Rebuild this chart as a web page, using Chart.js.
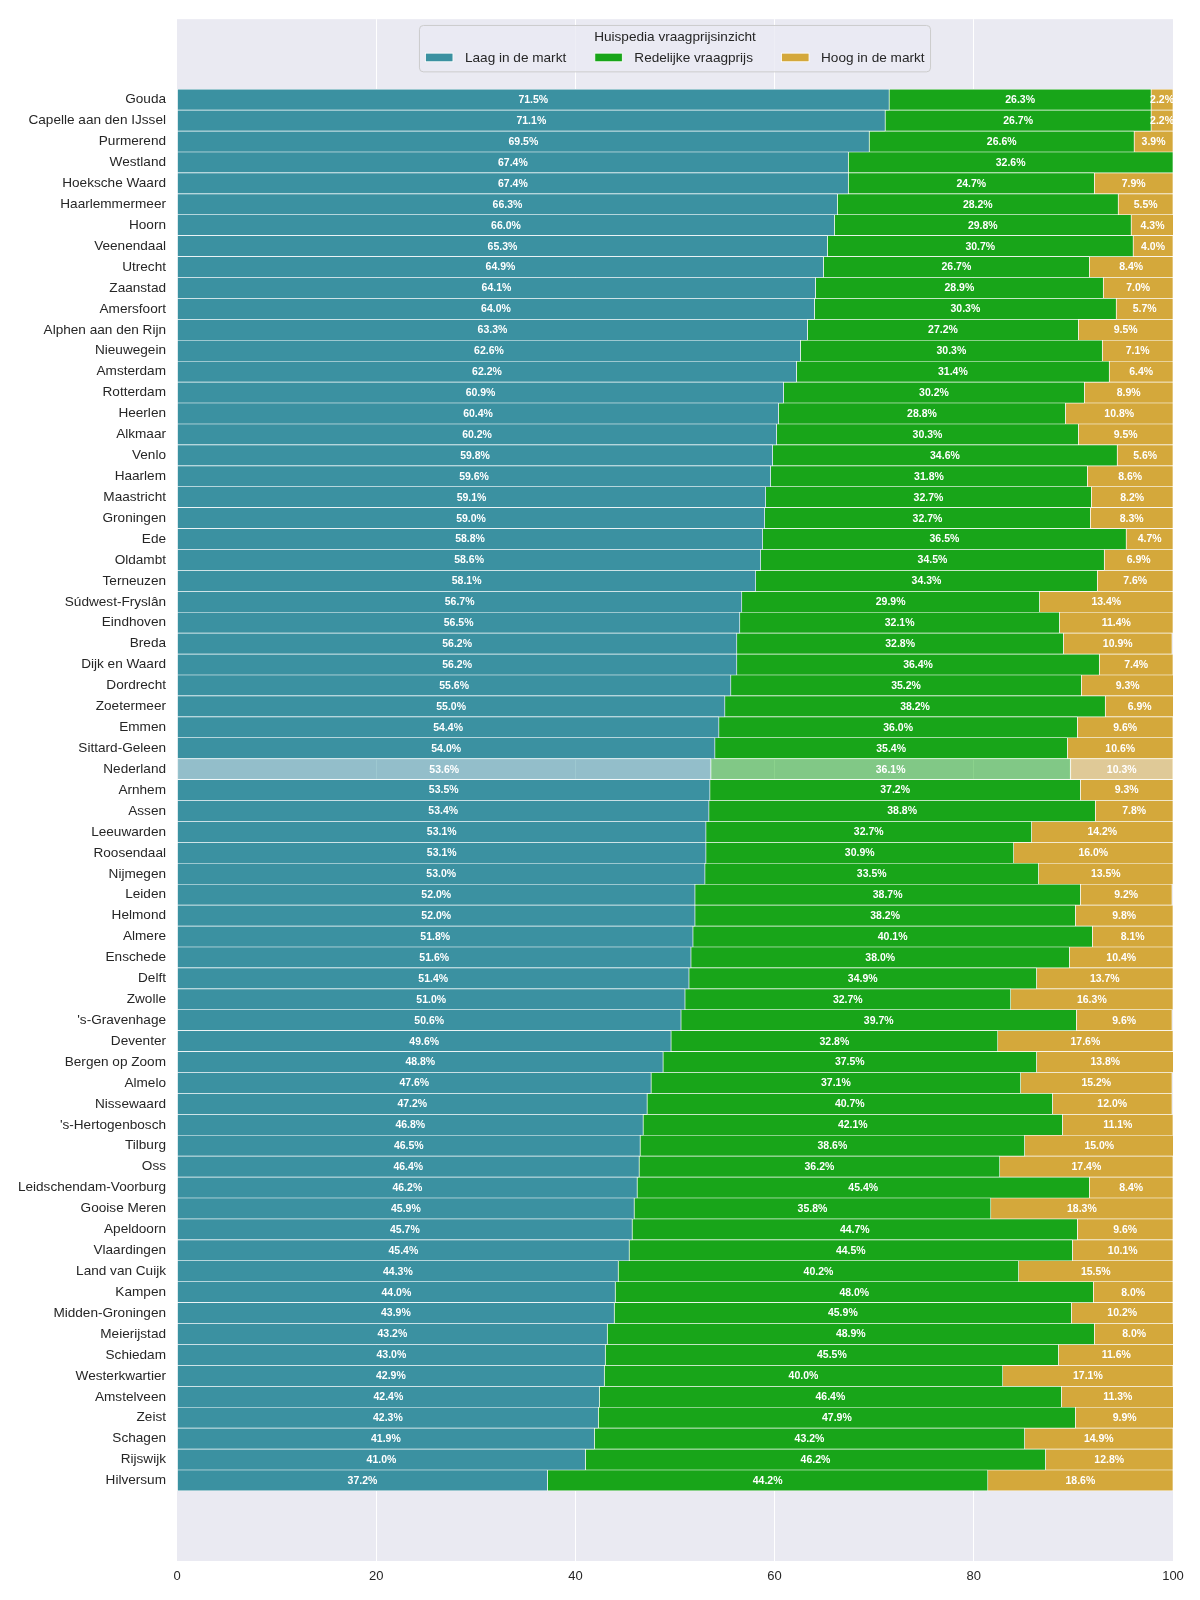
<!DOCTYPE html>
<html>
<head>
<meta charset="utf-8">
<script src="https://cdn.jsdelivr.net/npm/chart.js@4.4.1/dist/chart.umd.min.js"></script>
<style>
  html, body { margin: 0; padding: 0; background: #ffffff; }
</style>
</head>
<body>
<canvas id="myChart" width="1200" height="1600"></canvas>
<script>
var gemeenten = [
    'Gouda', 'Capelle aan den IJssel', 'Purmerend', 'Westland', 'Hoeksche Waard',
    'Haarlemmermeer', 'Hoorn', 'Veenendaal', 'Utrecht', 'Zaanstad',
    'Amersfoort', 'Alphen aan den Rijn', 'Nieuwegein', 'Amsterdam', 'Rotterdam',
    'Heerlen', 'Alkmaar', 'Venlo', 'Haarlem', 'Maastricht',
    'Groningen', 'Ede', 'Oldambt', 'Terneuzen', 'Súdwest-Fryslân',
    'Eindhoven', 'Breda', 'Dijk en Waard', 'Dordrecht', 'Zoetermeer',
    'Emmen', 'Sittard-Geleen', 'Nederland', 'Arnhem', 'Assen',
    'Leeuwarden', 'Roosendaal', 'Nijmegen', 'Leiden', 'Helmond',
    'Almere', 'Enschede', 'Delft', 'Zwolle', "'s-Gravenhage",
    'Deventer', 'Bergen op Zoom', 'Almelo', 'Nissewaard', "'s-Hertogenbosch",
    'Tilburg', 'Oss', 'Leidschendam-Voorburg', 'Gooise Meren', 'Apeldoorn',
    'Vlaardingen', 'Land van Cuijk', 'Kampen', 'Midden-Groningen', 'Meierijstad',
    'Schiedam', 'Westerkwartier', 'Amstelveen', 'Zeist', 'Schagen',
    'Rijswijk', 'Hilversum'
];

var laag = [
    71.5, 71.1, 69.5, 67.4, 67.4, 66.3, 66.0, 65.3, 64.9, 64.1,
    64.0, 63.3, 62.6, 62.2, 60.9, 60.4, 60.2, 59.8, 59.6, 59.1,
    59.0, 58.8, 58.6, 58.1, 56.7, 56.5, 56.2, 56.2, 55.6, 55.0,
    54.4, 54.0, 53.6, 53.5, 53.4, 53.1, 53.1, 53.0, 52.0, 52.0,
    51.8, 51.6, 51.4, 51.0, 50.6, 49.6, 48.8, 47.6, 47.2, 46.8,
    46.5, 46.4, 46.2, 45.9, 45.7, 45.4, 44.3, 44.0, 43.9, 43.2,
    43.0, 42.9, 42.4, 42.3, 41.9, 41.0, 37.2
];

var redelijk = [
    26.3, 26.7, 26.6, 32.6, 24.7, 28.2, 29.8, 30.7, 26.7, 28.9,
    30.3, 27.2, 30.3, 31.4, 30.2, 28.8, 30.3, 34.6, 31.8, 32.7,
    32.7, 36.5, 34.5, 34.3, 29.9, 32.1, 32.8, 36.4, 35.2, 38.2,
    36.0, 35.4, 36.1, 37.2, 38.8, 32.7, 30.9, 33.5, 38.7, 38.2,
    40.1, 38.0, 34.9, 32.7, 39.7, 32.8, 37.5, 37.1, 40.7, 42.1,
    38.6, 36.2, 45.4, 35.8, 44.7, 44.5, 40.2, 48.0, 45.9, 48.9,
    45.5, 40.0, 46.4, 47.9, 43.2, 46.2, 44.2
];

var hoog = [
    2.2, 2.2, 3.9, 0.0, 7.9, 5.5, 4.3, 4.0, 8.4, 7.0,
    5.7, 9.5, 7.1, 6.4, 8.9, 10.8, 9.5, 5.6, 8.6, 8.2,
    8.3, 4.7, 6.9, 7.6, 13.4, 11.4, 10.9, 7.4, 9.3, 6.9,
    9.6, 10.6, 10.3, 9.3, 7.8, 14.2, 16.0, 13.5, 9.2, 9.8,
    8.1, 10.4, 13.7, 16.3, 9.6, 17.6, 13.8, 15.2, 12.0, 11.1,
    15.0, 17.4, 8.4, 18.3, 9.6, 10.1, 15.5, 8.0, 10.2, 8.0,
    11.6, 17.1, 11.3, 9.9, 14.9, 12.8, 18.6
];

var seriesNames = ['Laag in de markt', 'Redelijke vraagprijs', 'Hoog in de markt'];
var seriesColors = ['#3b91a1', '#18a519', '#d4a83b'];
var seriesLight = ['rgba(59,145,161,0.5)', 'rgba(24,165,25,0.5)', 'rgba(212,168,59,0.5)'];
var legendTitle = 'Huispedia vraagprijsinzicht';
var highlight = 'Nederland';
var xTicks = [0, 20, 40, 60, 80, 100];

var labelFont = '"Liberation Sans", Arial, sans-serif';

function makeDataset(k, values) {
    return {
        label: seriesNames[k],
        data: values.map(function(v, i) { return {x: v, y: i}; }),
        backgroundColor: gemeenten.map(function(g) {
            return g === highlight ? seriesLight[k] : seriesColors[k];
        }),
        borderColor: '#ffffff',
        borderWidth: 0.65,
        borderSkipped: false,
        barPercentage: 1,
        categoryPercentage: 1
    };
}

// grey plot background like seaborn darkgrid
var plotBackground = {
    id: 'plotBackground',
    beforeDraw: function(chart) {
        var a = chart.chartArea, ctx = chart.ctx;
        ctx.save();
        ctx.fillStyle = '#eaeaf2';
        ctx.fillRect(a.left, a.top, a.right - a.left, a.bottom - a.top);
        ctx.restore();
    }
};

// percentage text in the middle of every segment
var barLabels = {
    id: 'barLabels',
    afterDatasetsDraw: function(chart) {
        var ctx = chart.ctx, a = chart.chartArea;
        ctx.save();
        ctx.beginPath();
        ctx.rect(a.left, a.top, a.right - a.left, a.bottom - a.top);
        ctx.clip();
        ctx.font = 'bold 10.5px ' + labelFont;
        ctx.fillStyle = '#ffffff';
        ctx.textAlign = 'center';
        ctx.textBaseline = 'middle';
        chart.data.datasets.forEach(function(ds, di) {
            chart.getDatasetMeta(di).data.forEach(function(bar, i) {
                var v = ds.data[i].x;
                if (!v) return;
                var p = bar.getCenterPoint();
                ctx.fillText(v.toFixed(1) + '%', p.x, p.y + 0.5);
            });
        });
        ctx.restore();
    }
};

// legend with title inside the plot, matplotlib style
var legendBox = {
    id: 'legendBox',
    afterDraw: function(chart) {
        var ctx = chart.ctx, a = chart.chartArea;
        ctx.save();
        ctx.font = '13.6px ' + labelFont;
        var sw = 27.5, sh = 8.6, gap = 12, col = 28.6, pad = 6;
        var widths = seriesNames.map(function(n) { return ctx.measureText(n).width; });
        var content = col * (seriesNames.length - 1);
        widths.forEach(function(w) { content += sw + gap + w; });
        var cx = (a.left + a.right) / 2;
        var x0 = cx - content / 2 - pad;
        var top = a.top + 6.3, h = 46.4;
        ctx.beginPath();
        ctx.roundRect(x0, top, content + 2 * pad, h, 4);
        ctx.fillStyle = 'rgba(234,234,242,0.8)';
        ctx.fill();
        ctx.strokeStyle = '#cccccc';
        ctx.lineWidth = 1;
        ctx.stroke();

        ctx.fillStyle = '#262626';
        ctx.textAlign = 'center';
        ctx.textBaseline = 'middle';
        ctx.fillText(legendTitle, cx, a.top + 18);

        var x = cx - content / 2, y = a.top + 38.3;
        ctx.textAlign = 'left';
        seriesNames.forEach(function(n, i) {
            ctx.fillStyle = seriesColors[i];
            ctx.fillRect(x, y - sh / 2, sw, sh);
            ctx.strokeStyle = '#ffffff';
            ctx.lineWidth = 0.8;
            ctx.strokeRect(x, y - sh / 2, sw, sh);
            ctx.fillStyle = '#262626';
            ctx.fillText(n, x + sw + gap, y + 0.5);
            x += sw + gap + widths[i] + col;
        });
        ctx.restore();
    }
};

var ctx = document.getElementById('myChart');
var myChart = new Chart(ctx, {
    type: 'bar',
    data: {
        datasets: [
            makeDataset(0, laag),
            makeDataset(1, redelijk),
            makeDataset(2, hoog)
        ]
    },
    options: {
        indexAxis: 'y',
        responsive: false,
        animation: false,
        devicePixelRatio: 1,
        layout: { padding: { top: 16, right: 27, bottom: 0, left: 0 } },
        plugins: {
            legend: { display: false },
            tooltip: { enabled: false }
        },
        scales: {
            x: {
                type: 'linear',
                stacked: true,
                min: 0,
                max: 100,
                border: { display: false },
                grid: {
                    drawTicks: false,
                    lineWidth: 1,
                    color: function(c) {
                        var v = c.tick && c.tick.value;
                        return (v === 0 || v === 100) ? 'rgba(0,0,0,0)' : '#ffffff';
                    }
                },
                afterBuildTicks: function(s) {
                    s.ticks = xTicks.map(function(v) { return {value: v}; });
                },
                afterFit: function(s) { s.height = 39; },
                ticks: {
                    padding: 8,
                    color: '#262626',
                    font: { family: labelFont, size: 13 },
                    maxRotation: 0
                }
            },
            y: {
                type: 'linear',
                stacked: true,
                reverse: true,
                offset: false,
                min: -3.85,
                max: 69.85,
                border: { display: false },
                grid: { display: false, drawTicks: false },
                afterBuildTicks: function(s) {
                    s.ticks = gemeenten.map(function(g, i) { return {value: i}; });
                },
                afterFit: function(s) { s.width = 177; },
                ticks: {
                    autoSkip: false,
                    padding: 11,
                    color: '#262626',
                    font: { family: labelFont, size: 13.6 },
                    callback: function(v) { return gemeenten[v]; }
                }
            }
        }
    },
    plugins: [plotBackground, barLabels, legendBox]
});
</script>
</body>
</html>
